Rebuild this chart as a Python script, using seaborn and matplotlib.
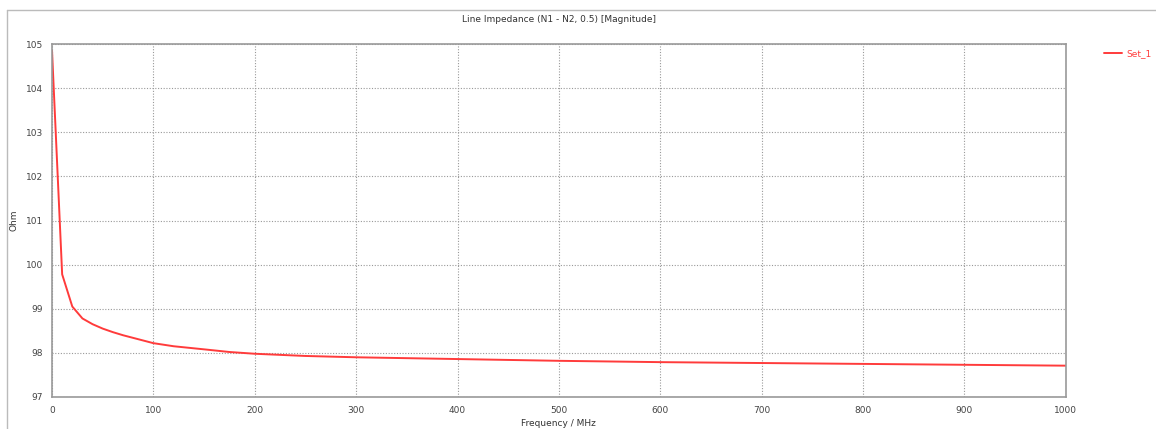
import numpy as np
import pandas as pd
import seaborn as sns
import matplotlib.pyplot as plt
from matplotlib.lines import Line2D

# values
freq_mhz = [0, 10, 20, 30, 40, 50, 60, 70, 80, 90, 100, 120, 150, 175, 200,
            250, 300, 400, 500, 600, 700, 800, 900, 1000]
impedance = [104.85, 99.78, 99.05, 98.78, 98.65, 98.55, 98.47, 98.40, 98.34,
             98.28, 98.22, 98.15, 98.08, 98.02, 97.98, 97.93, 97.90, 97.86,
             97.82, 97.79, 97.77, 97.75, 97.73, 97.71]
x_ticks = [0, 100, 200, 300, 400, 500, 600, 700, 800, 900, 1000]
y_ticks = [97, 98, 99, 100, 101, 102, 103, 104, 105]
series_name = 'Set_1'

df = pd.DataFrame({'freq': freq_mhz, 'ohm': impedance})

sns.set_style('white')
plt.rcParams['font.family'] = ['DejaVu Sans']

fig = plt.figure(figsize=(11.56, 4.29), dpi=100)
ax = fig.add_axes([0.045, 0.0746, 0.877, 0.8228])

sns.lineplot(data=df, x='freq', y='ohm', color='#ff3b3b', linewidth=1.4, ax=ax)

ax.set_xlim(0, 1000)
ax.set_ylim(97, 105)
ax.set_xticks(x_ticks)
ax.set_yticks(y_ticks)
ax.tick_params(labelsize=6.5, colors='#555555', length=3, width=0.8, labelcolor='#444444')
ax.grid(True, linestyle=(0, (1, 1.5)), color='#999999', linewidth=0.8)
for side in ['top', 'right', 'left', 'bottom']:
    ax.spines[side].set_color('#999999')
    ax.spines[side].set_linewidth(1.2)

ax.set_xlabel('Frequency / MHz', fontsize=6.5, color='#333333', labelpad=3)
ax.set_ylabel('Ohm', fontsize=6.5, color='#333333')
ax.yaxis.set_label_coords(-0.033, 0.5)
ax.set_title('Line Impedance (N1 - N2, 0.5) [Magnitude]', fontsize=6.5,
             color='#333333', pad=16)

handle = Line2D([0], [0], color='#ff3b3b', linewidth=1.4)
leg = fig.legend([handle], [series_name], loc='upper left',
                 bbox_to_anchor=(0.948, 0.905), frameon=False, fontsize=6.5,
                 handlelength=2.0, handletextpad=0.5)
for t in leg.get_texts():
    t.set_color('#ff3b3b')

# screenshot frame lines
fig.add_artist(Line2D([0.006, 1.0], [0.977, 0.977], color='#bbbbbb', linewidth=1))
fig.add_artist(Line2D([0.006, 0.006], [0.0, 0.977], color='#bbbbbb', linewidth=1))

fig.savefig('out.png', dpi=100)
